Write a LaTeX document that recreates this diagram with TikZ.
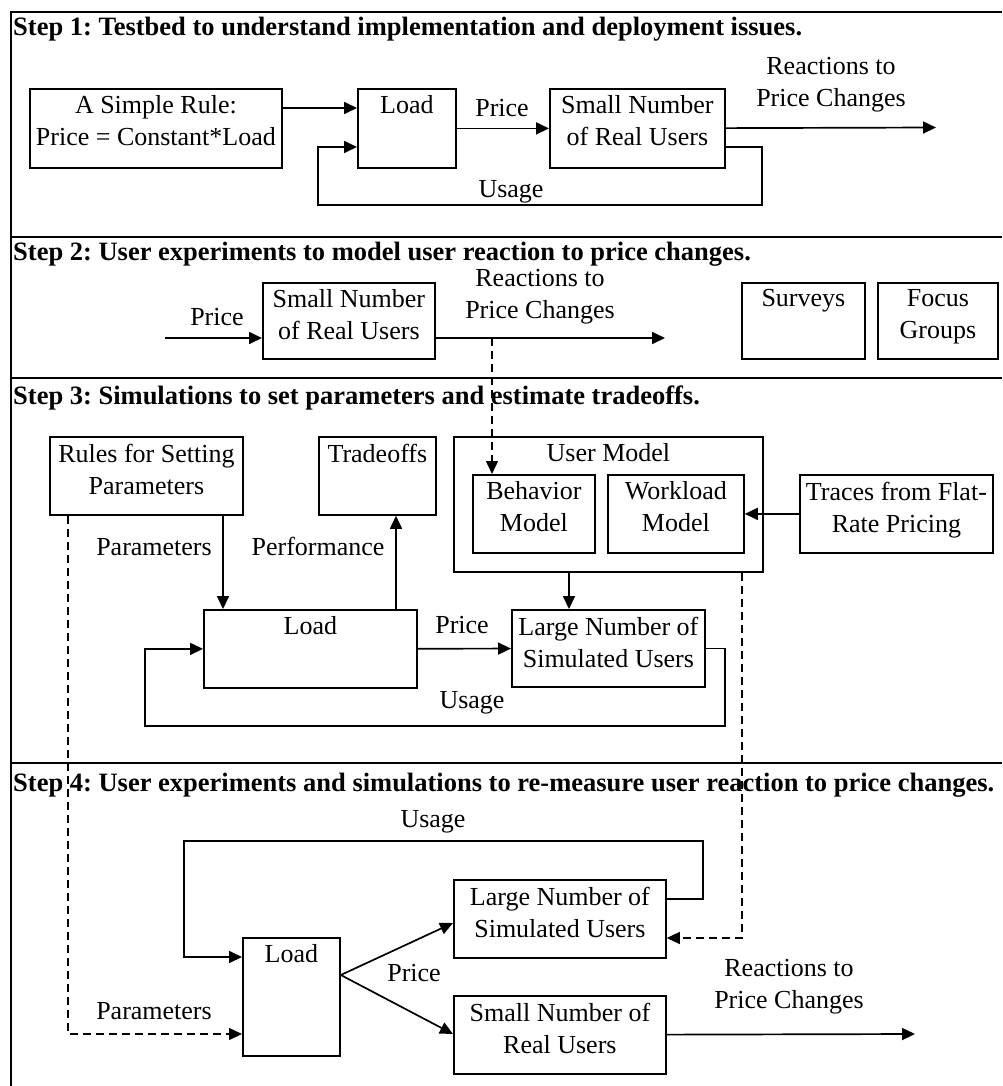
\documentclass[tikz,border=0pt]{standalone}
\usepackage{fontspec}
\setmainfont{Liberation Serif}
\usetikzlibrary{arrows.meta}
\frenchspacing

\begin{document}
\begin{tikzpicture}[
    x=1pt, y=-1pt,
    font=\fontsize{26}{32}\selectfont,
    >={Triangle[length=13pt, width=12pt]},
    % styles
    frameLine/.style={line width=2.6pt},
    stepTitle/.style={anchor=base west, inner sep=0pt, font=\fontsize{26.5}{32}\selectfont\bfseries},
    box/.style={draw, line width=1.8pt, anchor=north west, inner sep=0pt},
    boxTxt/.style={anchor=north, align=center, inner sep=7.5pt},
    % label styles
    lbl/.style={anchor=base, inner sep=0pt},
    lblTwo/.style={align=center, inner sep=0pt},
    conn/.style={->, line width=1.7pt},
    connDash/.style={->, line width=1.5pt, dash pattern=on 8pt off 5pt}
]
    \useasboundingbox (0,0) rectangle (1002,1086);

    % frame and step separators
    \draw[frameLine] (1002,12) -- (11,12) -- (11,1086);
    \foreach \sy in {237,378,763}
        \draw[frameLine] (11,\sy) -- (1002,\sy);

    \node[stepTitle] (title1) at (13,36) {Step 1: Testbed to understand implementation and deployment issues.};
    \node[stepTitle] (title2) at (13,260) {Step 2: User experiments to model user reaction to price changes.};
    \node[stepTitle] (title3) at (13,404) {Step 3: Simulations to set parameters and estimate tradeoffs.};
    \node[stepTitle] (title4) at (13,791) {Step 4: User experiments and simulations to re-measure user reaction to price changes.};

    % step 1: testbed
    \node[box, minimum width=252pt, minimum height=79pt, label={[boxTxt]north:{A Simple Rule:\\Price = Constant*Load}}] (rule) at (29,88) {};
    \node[box, minimum width=98pt, minimum height=79pt, label={[boxTxt]north:Load}] (loadA) at (357,88) {};
    \node[box, minimum width=175pt, minimum height=79pt, label={[boxTxt]north:{Small Number\\of Real Users}}] (smallA) at (549,88) {};
    \coordinate (outA) at (936,127.5);

    \draw[conn] (rule.east |- 0,108) -- (loadA.west |- 0,108);
    \draw[conn] (loadA) -- (smallA);
    \draw[conn] (smallA) -- (outA);
    \draw[conn] (smallA.east |- 0,147) -- ++(36,0) |- (318,205) |- (loadA.west |- 0,147);

    \node[lbl] (priceA) at (502,117) {Price};
    \node[lbl] (usageA) at (511,197) {Usage};
    \node[lblTwo] (reactA) at (831,85) {Reactions to\\Price Changes};

    % step 2: user experiments
    \node[box, minimum width=172pt, minimum height=76pt, label={[boxTxt]north:{Small Number\\of Real Users}}] (smallB) at (262,282) {};
    \node[box, minimum width=123pt, minimum height=76pt, label={[boxTxt]north:Surveys}] (surveys) at (741,282) {};
    \node[box, minimum width=120pt, minimum height=76pt, label={[boxTxt]north:{Focus\\Groups}}] (focus) at (877,282) {};
    \coordinate (inB) at (165,338);
    \coordinate (outB) at (665,338);
    \coordinate (tapB) at (492,338);

    \draw[conn] (inB) -- (smallB.west |- inB);
    \draw[conn] (smallB.east |- outB) -- (outB);

    \node[lbl] (priceB) at (217,325) {Price};
    \node[lblTwo] (reactB) at (540,297) {Reactions to\\Price Changes};

    % step 3: simulations
    \node[box, minimum width=193pt, minimum height=78pt, label={[boxTxt]north:{Rules for Setting\\Parameters}}] (rules) at (49,436) {};
    \node[box, minimum width=117pt, minimum height=78pt, label={[boxTxt]north:Tradeoffs}] (trade) at (318,436) {};
    \node[box, minimum width=309pt, minimum height=135pt, label={[boxTxt]north:User Model}] (umodel) at (453,436) {};
    \node[box, minimum width=122pt, minimum height=78pt, label={[boxTxt]north:{Behavior\\Model}}] (behav) at (472,474) {};
    \node[box, minimum width=136pt, minimum height=78pt, label={[boxTxt]north:{Workload\\Model}}] (work) at (607,474) {};
    \node[box, minimum width=193pt, minimum height=78pt, label={[boxTxt]north:{Traces from Flat-\\Rate Pricing}}] (traces) at (799,474) {};
    \node[box, minimum width=213pt, minimum height=78pt, label={[boxTxt]north:Load}] (loadC) at (203,609) {};
    \node[box, minimum width=193pt, minimum height=77pt, label={[boxTxt]north:{Large Number of\\Simulated Users}}] (largeC) at (511,609) {};

    \draw[conn] (traces) -- (work);
    \draw[conn] (rules.south -| 223,0) -- (loadC.north -| 223,0);
    \draw[conn] (loadC.north -| 396,0) -- (trade.south -| 396,0);
    \draw[conn] (umodel.south -| 569,0) -- (largeC.north -| 569,0);
    \draw[conn] (loadC) -- (largeC);
    \draw[conn] (largeC.east) -- ++(19,0) |- (145,726) |- (loadC.west);

    \node[lbl] (paramC) at (154,555) {Parameters};
    \node[lbl] (perfC) at (318,555) {Performance};
    \node[lbl] (priceC) at (462,633) {Price};
    \node[lbl] (usageC) at (472,708) {Usage};

    % step 4: re-measure
    \node[box, minimum width=97pt, minimum height=118pt, label={[boxTxt]north:Load}] (loadD) at (242,937) {};
    \node[box, minimum width=212pt, minimum height=78pt, label={[boxTxt]north:{Large Number of\\Simulated Users}}] (largeD) at (453,879) {};
    \node[box, minimum width=212pt, minimum height=78pt, label={[boxTxt]north:{Small Number of\\Real Users}}] (smallD) at (453,995) {};
    \coordinate (outD) at (915,1034);

    \draw[conn] (loadD.east |- 0,975) -- (largeD.west |- 0,923);
    \draw[conn] (loadD.east |- 0,975) -- (smallD.west |- 0,1034);
    \draw[conn] (smallD) -- (outD);
    \draw[conn] (largeD.east |- 0,899) -- (703,899) |- (184,841) |- (loadD.west |- 0,957);

    \node[lbl] (usageD) at (433,827) {Usage};
    \node[lbl] (priceD) at (414,981) {Price};
    \node[lbl] (paramD) at (154,1019) {Parameters};
    \node[lblTwo] (reactD) at (789,987) {Reactions to\\Price Changes};

    % dashed links between steps
    \draw[connDash] (tapB) -- (tapB |- behav.north);
    \draw[connDash] (rules.south -| 68,0) |- (loadD.west |- 0,1034);
    \draw[connDash] (umodel.south -| 742,0) |- (largeD.east |- 0,938);
\end{tikzpicture}
\end{document}
